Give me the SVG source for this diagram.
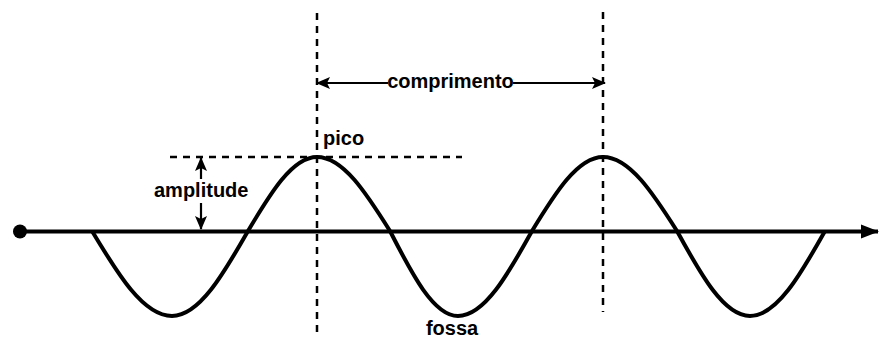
<svg xmlns="http://www.w3.org/2000/svg" width="880" height="338" viewBox="0 0 880 338">
<style>
.lbl{font-family:"Liberation Sans",Arial,sans-serif;font-size:20px;font-weight:bold;fill:#000}
.dash{stroke:#000;stroke-width:2.5;stroke-dasharray:7 6;fill:none}
.thin{stroke:#000;stroke-width:2.2;fill:none}
</style>
<defs>
<marker id="ah" markerWidth="14" markerHeight="12" refX="13" refY="6" orient="auto" markerUnits="userSpaceOnUse">
<path d="M0,0 L14,6 L0,12 L3,6 Z" fill="#000"/>
</marker>
<marker id="axh" markerWidth="18" markerHeight="16" refX="17" refY="8" orient="auto" markerUnits="userSpaceOnUse">
<path d="M0,1 L18,8 L0,15 Z" fill="#000"/>
</marker>
</defs>
<g id="guides">
<line class="dash" x1="317" y1="13" x2="317" y2="338"/>
<line class="dash" x1="603" y1="12" x2="603" y2="312"/>
<line class="dash" x1="170" y1="157" x2="462" y2="157"/>
</g>
<g id="axis">
<circle cx="20" cy="231.5" r="7" fill="#000"/>
<line x1="20" y1="231.5" x2="878" y2="231.5" stroke="#000" stroke-width="4" marker-end="url(#axh)"/>
</g>
<g id="wave">
<path d="M92,231 C118.1,274.5 143.4,316 172,316 C199.1,316 223.2,274.5 248,231 C270.5,193.1 292.4,157 317,157 C343.1,157 366.2,193.1 390,231 C412.2,274.5 433.7,316 458,316 C484.4,316 507.9,274.5 532,231 C555.1,193.1 577.7,157 603,157 C629.4,157 652.9,193.1 677,231 C700.8,274.5 723.9,316 750,316 C776.8,316 800.6,274.5 825,231" fill="none" stroke="#000" stroke-width="4"/>
</g>
<g id="connectors">
<line class="thin" x1="388" y1="83" x2="317" y2="83" marker-end="url(#ah)"/>
<line class="thin" x1="513" y1="83" x2="605" y2="83" marker-end="url(#ah)"/>
<line class="thin" x1="201" y1="179" x2="201" y2="158" marker-end="url(#ah)"/>
<line class="thin" x1="201" y1="203" x2="201" y2="229" marker-end="url(#ah)"/>
</g>
<g id="label-comprimento"><text class="lbl" x="450.5" y="88" text-anchor="middle">comprimento</text></g>
<g id="label-pico"><text class="lbl" x="323" y="145">pico</text></g>
<g id="label-amplitude"><text class="lbl" x="154" y="197">amplitude</text></g>
<g id="label-fossa"><text class="lbl" x="452" y="335" text-anchor="middle">fossa</text></g>
</svg>
